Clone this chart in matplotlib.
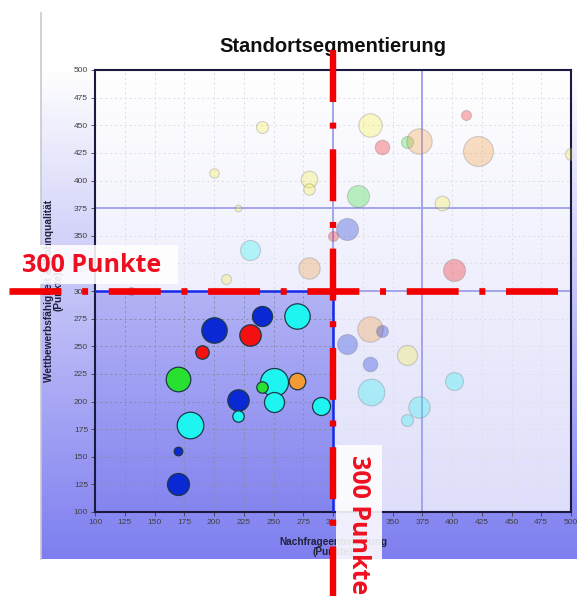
import numpy as np
import matplotlib
matplotlib.use("Agg")
import matplotlib.pyplot as plt
import matplotlib.transforms as mtransforms
from matplotlib.lines import Line2D
from matplotlib.patches import Polygon, Rectangle

plt.rcParams['lines.scale_dashes'] = False

# Standorte: Nachfrageentwicklung (x), Wettbewerbsfähigkeit (y), Blasengröße, Farbe
nachfrage = [200, 230, 240, 270, 190, 170, 250, 240, 270, 220, 220, 250, 290, 180, 170, 170, 130,
             240, 200, 280, 280, 220, 230, 280, 210, 300,
             331, 341, 362, 372, 412, 422, 500, 321, 392, 312, 402,
             331, 341, 312, 362, 331, 332, 402, 372, 362]
wettbewerb = [265, 260, 277, 277, 245, 220, 218, 213, 219, 201, 187, 200, 196, 179, 155, 125, 300,
              448, 407, 401, 392, 375, 337, 321, 311, 350,
              450, 430, 435, 436, 459, 427, 424, 386, 380, 356, 319,
              266, 264, 252, 242, 234, 209, 219, 195, 183]
groesse = [12.7, 10.7, 10, 12.7, 6.7, 12.3, 14, 5.7, 8.3, 10.7, 5.7, 10, 9, 13.3, 4.3, 11, 4,
           6, 4.7, 8.3, 5.7, 3.3, 10, 10.7, 5, 5,
           11.7, 7.3, 6, 12.7, 5, 15, 6, 11, 7.3, 11, 11,
           12.7, 6, 10, 10, 7.3, 13.3, 9, 10.7, 6]
farbe = ['blau', 'rot', 'blau', 'cyan', 'rot', 'gruen', 'cyan', 'gruen', 'orange', 'blau', 'cyan', 'cyan',
         'cyan', 'cyan', 'blau', 'blau', 'blau',
         'gelb', 'gelb', 'gelb', 'gelb', 'gelb', 'cyan', 'orange', 'gelb', 'rot',
         'gelb', 'rot', 'gruen', 'orange', 'rot', 'orange', 'gelb', 'gruen', 'gelb', 'blau', 'rot',
         'orange', 'blau', 'blau', 'gelb', 'blau', 'cyan', 'cyan', 'cyan', 'cyan']

ticks = list(range(100, 501, 25))
grenze = 300

farben = {'blau': '#0a28d4', 'rot': '#f41010', 'cyan': '#1ff5f0', 'gruen': '#28e030',
          'orange': '#f39a35', 'gelb': '#f7f23a'}

fig = plt.figure(figsize=(5.77, 5.96), dpi=100)

# Hintergrund-Verlauf
bg = fig.add_axes([41/577, 1-559/596, 536/577, 546/596], zorder=-1)
t = np.clip((np.linspace(0, 1, 300) - 0.1) / 0.9, 0, 1)
top = np.array([1.0, 1.0, 1.0])
bottom = np.array([126, 126, 240]) / 255
grad = top[None, :] * (1 - t[:, None]) + bottom[None, :] * t[:, None]
bg.imshow(grad[:, None, :], aspect='auto', extent=[0, 1, 0, 1])
bg.axis('off')
fig.add_artist(Line2D([41/577, 41/577], [1-559/596, 1-13/596], color='#c8c8d0', lw=1.2))

ax = fig.add_axes([95/577, 1-512/596, 476/577, 442/596])
ax.set_facecolor('none')
ax.set_xlim(100, 500)
ax.set_ylim(100, 500)
ax.set_xticks(ticks)
ax.set_yticks(ticks)
ax.tick_params(labelsize=6, colors='#404040', length=3, width=0.6, pad=2)
for lab in ax.get_xticklabels() + ax.get_yticklabels():
    lab.set_fontfamily('Liberation Sans')
ax.set_axisbelow(True)
ax.grid(True, linestyle=(0, (1.5, 2)), color='#8a8aa8', lw=0.7)
for sp in ax.spines.values():
    sp.set_color('#1a1a40')
    sp.set_linewidth(1.5)

# Zielquadrant leicht blauer, Rest aufgehellt
ax.add_patch(Rectangle((100, 100), grenze - 100, grenze - 100, facecolor='#6e6eeb', alpha=0.2,
                       edgecolor='none', zorder=0.2))
ax.add_patch(Polygon([(100, grenze), (grenze, grenze), (grenze, 100), (500, 100), (500, 500), (100, 500)],
                     closed=True, facecolor='white', alpha=0.72, edgecolor='none', zorder=1))

# Hilfslinien
ax.axvline(375, color='#a4a4ee', lw=1.4, zorder=2)
ax.axhline(375, color='#a4a4ee', lw=1.4, zorder=2)
ax.plot([grenze, grenze], [grenze, 500], color='#a4a4ee', lw=1.4, zorder=2)
ax.plot([grenze, 500], [grenze, grenze], color='#a4a4ee', lw=1.4, zorder=2)

# Blasen
for x, y, r, f in zip(nachfrage, wettbewerb, groesse, farbe):
    s = (2 * r * 0.72) ** 2
    if x <= grenze and y < grenze:
        ax.scatter(x, y, s=s, color=farben[f], edgecolors='#1e3848', linewidths=0.9, zorder=4)
    else:
        ax.scatter(x, y, s=s, color=farben[f], alpha=0.3, edgecolors='#707070', linewidths=0.8, zorder=3)

# Rand des Zielquadranten
ax.plot([100, grenze, grenze], [grenze, grenze, 100], color='#1428e6', lw=1.8, zorder=5)

ax.set_title('Standortsegmentierung', fontsize=14.5, fontweight='bold', family='Liberation Sans',
             color='#101010', pad=13)
ax.text(-0.087, 0.5, 'Wettbewerbsfähigkeit & Wohnqualität\n(Punkte)', transform=ax.transAxes,
        rotation=90, ha='center', va='center', fontsize=7.3, fontweight='bold',
        family='Liberation Sans', color='#20203a', linespacing=1.0)
fig.text(333/577, 1-547/596, 'Nachfrageentwicklung\n(Punkte)', ha='center', va='center',
         fontsize=7.3, fontweight='bold', family='Liberation Sans', color='#20203a', linespacing=1.0)

# weiße Kästen mit Beschriftung
fig.add_artist(Rectangle((0, 1-284/596), 178/577, 39/596, transform=fig.transFigure,
                         facecolor='white', alpha=0.88, edgecolor='none', zorder=5))
fig.add_artist(Rectangle((336/577, 1-559/596), 46/577, 114/596, transform=fig.transFigure,
                         facecolor='white', alpha=0.88, edgecolor='none', zorder=5))
rot = '#ee1020'
fig.text(92/577, 1-265/596, '300 Punkte', ha='center', va='center', fontsize=18,
         fontweight='bold', family='Open Sans', color=rot, zorder=6)
fig.text(358/577, 1-455/596, '300 Punkte', ha='center', va='top', rotation=-90, fontsize=18,
         fontweight='bold', family='Open Sans', color=rot, zorder=6)

# rote Schwellenlinien bei 300 Punkten
strich = (0, (37.4, 14.9, 4.3, 14.9))
h_tr = mtransforms.blended_transform_factory(fig.transFigure, ax.transData)
v_tr = mtransforms.blended_transform_factory(ax.transData, fig.transFigure)
fig.add_artist(Line2D([9/577, 559/577], [grenze, grenze], transform=h_tr, color='#f20000', lw=4.8,
                      linestyle=strich, dash_capstyle='butt', zorder=7))
fig.add_artist(Line2D([grenze, grenze], [1-50/596, -0.02], transform=v_tr, color='#f20000', lw=4.6,
                      linestyle=strich, dash_capstyle='butt', zorder=7))

fig.savefig('out.png', dpi=100)
